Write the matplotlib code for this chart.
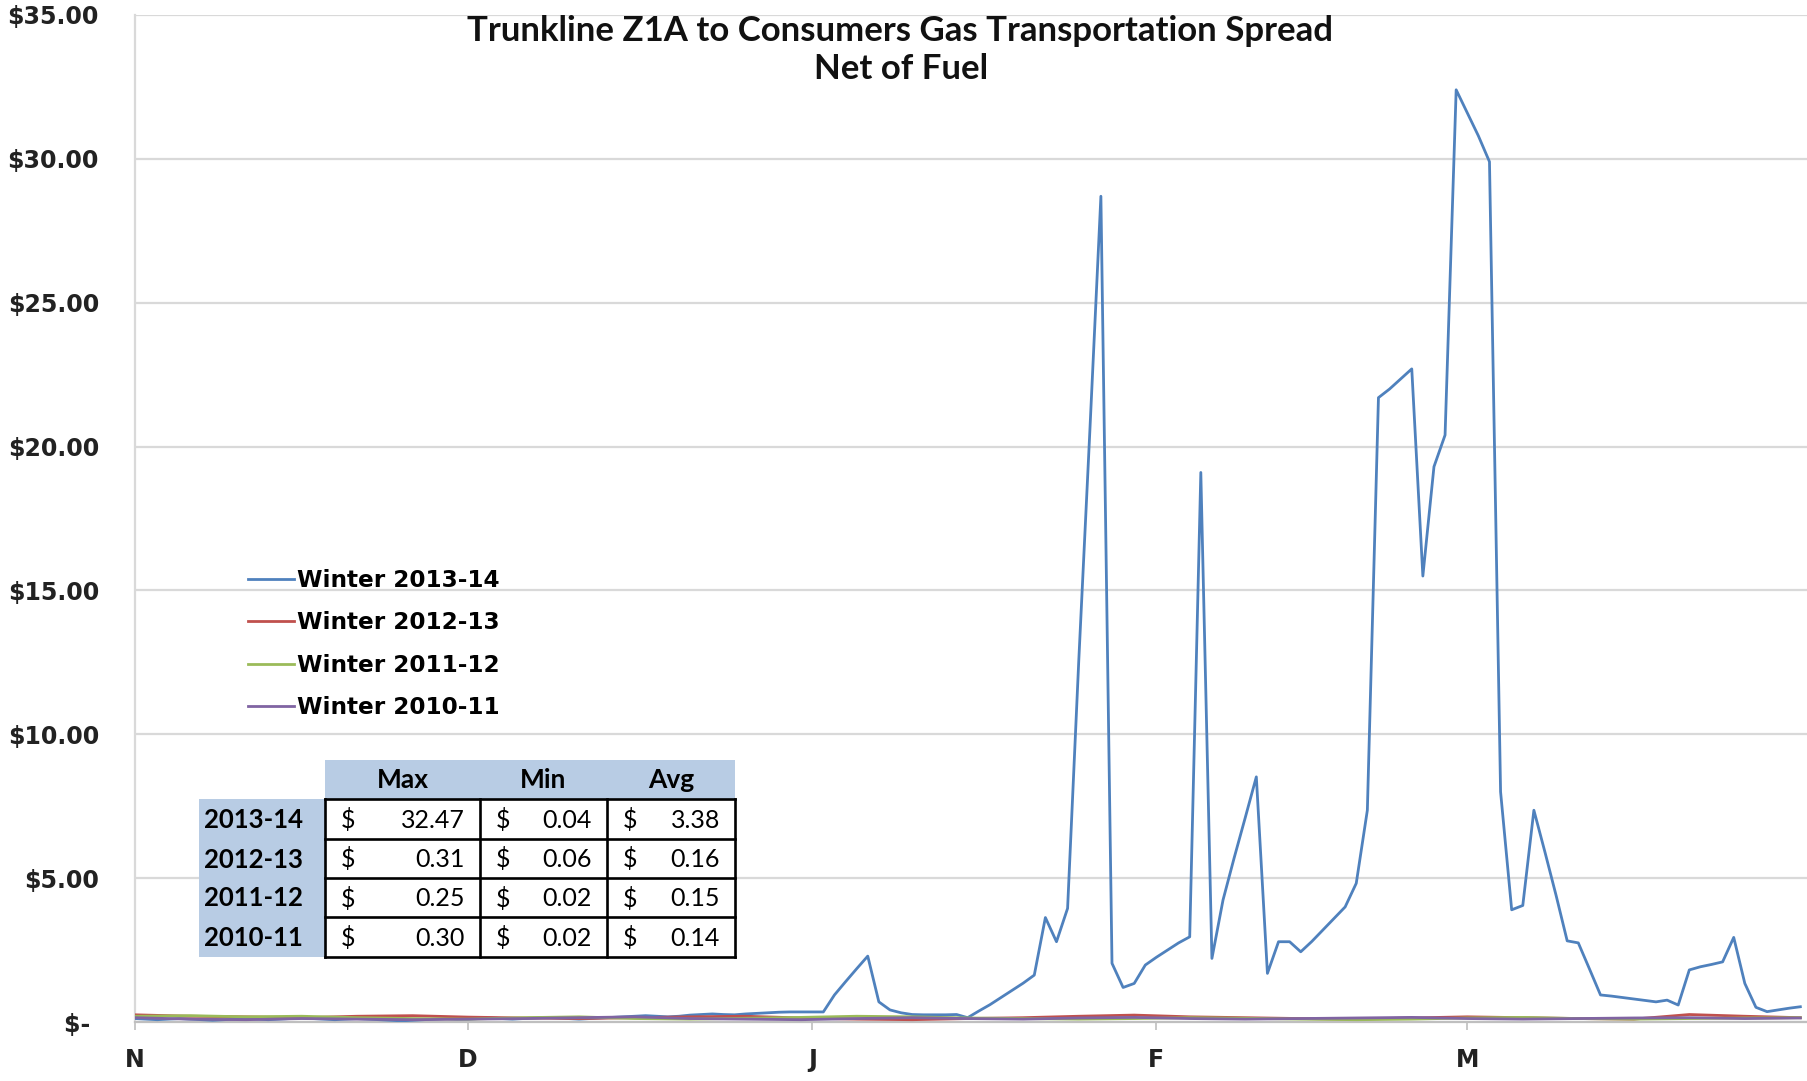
import matplotlib
matplotlib.use("Agg")
import matplotlib.pyplot as plt
from matplotlib.lines import Line2D

# day index: Nov 1 = 0 ... Mar 31 = 150
month_labels = ["N", "D", "J", "F", "M"]
month_starts = [0, 30, 61, 92, 120]

# Winter 2013-14, daily spread ($/Dth)
w1314 = [
    0.12, 0.10, 0.08, 0.10, 0.12, 0.10, 0.08, 0.06, 0.08, 0.10,
    0.12, 0.10, 0.08, 0.10, 0.12, 0.14, 0.12, 0.10, 0.08, 0.10,
    0.12, 0.10, 0.08, 0.06, 0.04, 0.06, 0.08, 0.10, 0.12, 0.10,
    0.10, 0.12, 0.14, 0.12, 0.10, 0.12, 0.14, 0.16, 0.14, 0.12,
    0.10, 0.12, 0.14, 0.16, 0.18, 0.20, 0.22, 0.20, 0.18, 0.20,
    0.24, 0.26, 0.28, 0.26, 0.25, 0.28, 0.30, 0.32, 0.34, 0.35,
    0.35, 0.35, 0.35, 0.94, 1.40, 1.85, 2.29, 0.70, 0.42, 0.32,
    0.26, 0.25, 0.25, 0.25, 0.26, 0.15, 0.38, 0.60, 0.85, 1.10,
    1.35, 1.63, 3.63, 2.79, 3.95, 12.5, 20.5, 28.7, 2.04, 1.20,
    1.34, 1.98, 2.25, 2.50, 2.75, 2.96, 19.1, 2.21, 4.24, 5.70,
    7.10, 8.52, 1.69, 2.79, 2.79, 2.44, 2.80, 3.20, 3.60, 4.00,
    4.82, 7.36, 21.7, 22.0, 22.35, 22.7, 15.5, 19.3, 20.4, 32.4,
    31.6, 30.8, 29.9, 8.00, 3.90, 4.05, 7.36, 5.90, 4.40, 2.82,
    2.75, 1.85, 0.94, 0.90, 0.85, 0.80, 0.75, 0.70, 0.76, 0.59,
    1.81, 1.92, 2.00, 2.09, 2.94, 1.34, 0.51, 0.36, 0.42, 0.48,
    0.53,
]
days_1314 = list(range(len(w1314)))

# earlier winters, sampled every 5 days
low_days = list(range(0, 151, 5))
w1213 = [0.25, 0.20, 0.18, 0.15, 0.20, 0.22, 0.17, 0.14, 0.12, 0.15,
         0.18, 0.20, 0.14, 0.10, 0.08, 0.12, 0.15, 0.20, 0.24, 0.18,
         0.15, 0.12, 0.10, 0.14, 0.18, 0.15, 0.12, 0.10, 0.26, 0.20, 0.15]
w1112 = [0.20, 0.22, 0.18, 0.20, 0.15, 0.12, 0.10, 0.15, 0.18, 0.12,
         0.10, 0.13, 0.16, 0.20, 0.18, 0.14, 0.12, 0.10, 0.12, 0.15,
         0.13, 0.10, 0.08, 0.10, 0.14, 0.16, 0.12, 0.10, 0.12, 0.14, 0.15]
w1011 = [0.15, 0.10, 0.08, 0.12, 0.10, 0.08, 0.10, 0.12, 0.15, 0.18,
         0.12, 0.10, 0.08, 0.12, 0.15, 0.12, 0.10, 0.14, 0.16, 0.12,
         0.10, 0.12, 0.14, 0.16, 0.12, 0.10, 0.12, 0.14, 0.15, 0.12, 0.14]

series_names = ["Winter 2013-14", "Winter 2012-13", "Winter 2011-12", "Winter 2010-11"]
series_colors = ["#4F81BD", "#C0504D", "#9BBB59", "#8064A2"]

y_ticks = [0, 5, 10, 15, 20, 25, 30, 35]

table_rows = ["2013-14", "2012-13", "2011-12", "2010-11"]
table_cols = ["Max", "Min", "Avg"]
table_vals = [
    [32.47, 0.04, 3.38],
    [0.31, 0.06, 0.16],
    [0.25, 0.02, 0.15],
    [0.30, 0.02, 0.14],
]

W, H = 1807, 1081
fig = plt.figure(figsize=(W / 100, H / 100), dpi=100)
fig.patch.set_facecolor("white")

ax = fig.add_axes([135 / W, 59 / H, 1672 / W, 1007 / H])
ax.plot(days_1314, w1314, color=series_colors[0], lw=2.0, zorder=3)
ax.plot(low_days, w1213, color=series_colors[1], lw=2.0, zorder=4)
ax.plot(low_days, w1112, color=series_colors[2], lw=2.0, zorder=4)
ax.plot(low_days, w1011, color=series_colors[3], lw=2.0, zorder=4)

ax.set_xlim(0, 150.6)
ax.set_ylim(0, 35)
ax.set_yticks(y_ticks)
# accounting-style zero label keeps a trailing space
ax.set_yticklabels([f"${v:.2f}" if v else "$- " for v in y_ticks])
ax.set_xticks(month_starts)
ax.set_xticklabels(month_labels)
ax.grid(axis="y", color="#D9D9D9", lw=1.6)
ax.set_axisbelow(True)
for s in ["top", "right"]:
    ax.spines[s].set_visible(False)
ax.spines["left"].set_color("#D9D9D9")
ax.spines["left"].set_linewidth(1.6)
ax.spines["bottom"].set_color("#BFBFBF")
ax.spines["bottom"].set_linewidth(1.6)
ax.tick_params(axis="y", length=0, pad=26)
ax.tick_params(axis="x", length=6, width=1.2, color="#BFBFBF", pad=13)
for lab in ax.get_yticklabels() + ax.get_xticklabels():
    lab.set_fontfamily("DejaVu Sans")
    lab.set_fontweight("bold")
    lab.set_fontsize(17)
    lab.set_color("#222222")

# overlay in pixel coordinates for title, legend and table
ov = fig.add_axes([0, 0, 1, 1], zorder=5)
ov.set_xlim(0, W)
ov.set_ylim(H, 0)
ov.axis("off")

ov.text(900, 31, "Trunkline Z1A to Consumers Gas Transportation Spread",
        ha="center", va="center", fontsize=25, fontweight="bold", family="Lato", color="#111111")
ov.text(901, 69, "Net of Fuel", ha="center", va="center", fontsize=25,
        fontweight="bold", family="Lato", color="#111111")

handles = [Line2D([], [], color=c, lw=2) for c in series_colors]
ov.legend(handles, series_names, loc="center left", bbox_to_anchor=(248, 644),
          bbox_transform=ov.transData, frameon=False, handlelength=2.0,
          handletextpad=0.1, labelspacing=0.84, borderpad=0, borderaxespad=0,
          prop={"family": "DejaVu Sans", "weight": "bold", "size": 16.7})

# stats table
col_edges = [325, 480, 607, 735]
row_edges = [799, 839, 878, 917, 957]
head_top, lab_left = 760, 199
fill = "#B8CCE4"
ov.add_patch(plt.Rectangle((col_edges[0], head_top), col_edges[-1] - col_edges[0],
                           row_edges[0] - head_top, facecolor=fill, edgecolor="none"))
ov.add_patch(plt.Rectangle((lab_left, row_edges[0]), col_edges[0] - lab_left,
                           row_edges[-1] - row_edges[0], facecolor=fill, edgecolor="none"))
ov.add_patch(plt.Rectangle((col_edges[0], row_edges[0]), col_edges[-1] - col_edges[0],
                           row_edges[-1] - row_edges[0], facecolor="white", edgecolor="none"))
for yy in row_edges:
    ov.plot([col_edges[0], col_edges[-1]], [yy, yy], color="black", lw=1.9, solid_capstyle="projecting")
for xx in col_edges:
    ov.plot([xx, xx], [row_edges[0], row_edges[-1]], color="black", lw=1.9, solid_capstyle="projecting")

for j, name in enumerate(table_cols):
    ov.text((col_edges[j] + col_edges[j + 1]) / 2, (head_top + row_edges[0]) / 2 + 1, name,
            ha="center", va="center", fontsize=19, fontweight="bold", family="Lato")
for i, rname in enumerate(table_rows):
    yc = (row_edges[i] + row_edges[i + 1]) / 2 + 1
    ov.text(lab_left + 5, yc, rname, ha="left", va="center", fontsize=18.5,
            fontweight="bold", family="Lato")
    for j, v in enumerate(table_vals[i]):
        ov.text(col_edges[j] + 16, yc, "$", ha="left", va="center", fontsize=18, family="Lato")
        ov.text(col_edges[j + 1] - 15, yc, f"{v:.2f}", ha="right", va="center",
                fontsize=18, family="Lato")

fig.savefig("out.png", dpi=100, facecolor="white")
